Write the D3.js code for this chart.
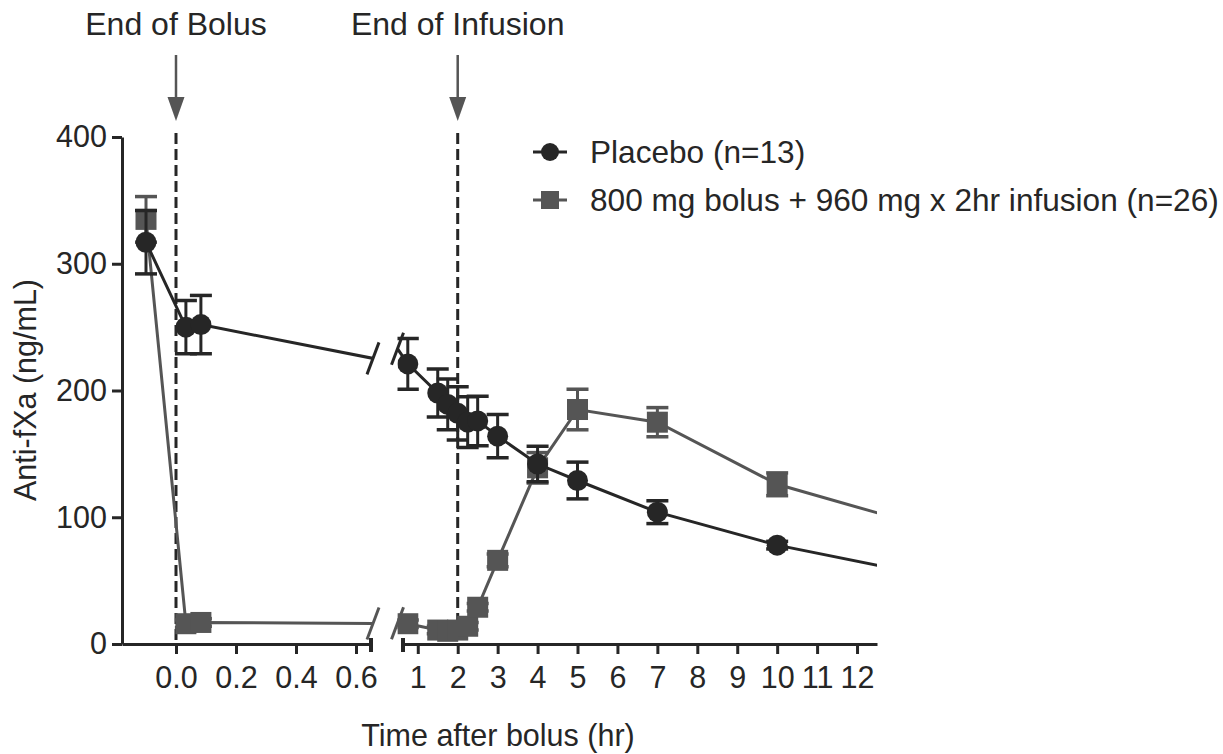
<!DOCTYPE html>
<html>
<head>
<meta charset="utf-8">
<title>Anti-fXa time course</title>
<script src="https://cdn.jsdelivr.net/npm/d3@7"></script>
<style>
  body { margin: 0; background: #fff; }
  text { font-family: "Liberation Sans", Arial, sans-serif; fill: #262626; }
</style>
</head>
<body>
<div id="chart"></div>
<script>
// time after bolus (hr) and anti-fXa (ng/mL), mean +/- error
var placeboTime = [-0.1, 0.033, 0.083, 0.75, 1.5, 1.75, 2, 2.25, 2.5, 3, 4, 5, 7, 10, 16];
var placeboMean = [317, 250, 252, 221, 198, 189, 182, 175, 176, 164, 142, 129, 104, 78, 40];
var placeboErr  = [25, 21, 23, 20, 19, 20, 21, 20, 19.5, 17, 14, 14.5, 9, 3, 3];

var comboTime = [-0.1, 0.033, 0.083, 0.75, 1.5, 1.75, 2, 2.25, 2.5, 3, 4, 5, 7, 10, 16];
var comboMean = [335, 16, 17, 16, 11, 10, 11, 14, 29, 66, 139, 185, 175, 126, 72];
var comboErr  = [18, 3, 3, 3, 3, 3, 3, 3, 3, 5, 12, 16, 11.5, 9, 5];

var seriesNames = ["Placebo (n=13)", "800 mg bolus + 960 mg x 2hr infusion (n=26)"];
var yTicks = [0, 100, 200, 300, 400];
var leftTicks = [0, 0.2, 0.4, 0.6];
var rightTicks = [1, 2, 3, 4, 5, 6, 7, 8, 9, 10, 11, 12];
var events = [{label: "End of Bolus", t: 0, seg: "left"}, {label: "End of Infusion", t: 2, seg: "right"}];

var W = 1223, H = 754;
var dark = "#262626", grey = "#555555";

var svg = d3.select("#chart").append("svg").attr("width", W).attr("height", H);

var y = d3.scaleLinear().domain([0, 400]).range([644, 137]);
var xLeft = d3.scaleLinear().domain([-0.18, 0.65]).range([122, 371]);
var xRight = d3.scaleLinear().domain([0.63, 12.5]).range([403, 877]);
var breakL = 373, breakR = 397.5;

var defs = svg.append("defs");
defs.append("clipPath").attr("id", "clipL").append("rect")
  .attr("x", 100).attr("y", 0).attr("width", breakL - 100).attr("height", H);
defs.append("clipPath").attr("id", "clipR").append("rect")
  .attr("x", breakR).attr("y", 0).attr("width", 877 - breakR).attr("height", H);

// axes
var yAxis = svg.append("g").attr("transform", "translate(122,0)")
  .call(d3.axisLeft(y).tickValues(yTicks).tickSize(10).tickPadding(5).tickSizeOuter(0));
var axL = svg.append("g").attr("transform", "translate(0,644)")
  .call(d3.axisBottom(xLeft).tickValues(leftTicks).tickFormat(d3.format(".1f"))
    .tickSize(10).tickPadding(12).tickSizeOuter(0));
var axR = svg.append("g").attr("transform", "translate(0,644)")
  .call(d3.axisBottom(xRight).tickValues(rightTicks).tickFormat(d3.format("d"))
    .tickSize(10).tickPadding(12).tickSizeOuter(0));
[yAxis, axL, axR].forEach(function(g) {
  g.selectAll("path.domain").attr("stroke", dark).attr("stroke-width", 3);
  g.selectAll(".tick line").attr("stroke", dark).attr("stroke-width", 3);
  g.selectAll(".tick text").attr("font-size", 30.5).attr("fill", dark)
    .style("font-family", '"Liberation Sans", Arial, sans-serif');
});
// end caps of the broken x axis
svg.append("line").attr("x1", xLeft.range()[1]).attr("x2", xLeft.range()[1])
  .attr("y1", 638).attr("y2", 652).attr("stroke", dark).attr("stroke-width", 4);
svg.append("line").attr("x1", xRight.range()[0]).attr("x2", xRight.range()[0])
  .attr("y1", 638).attr("y2", 652).attr("stroke", dark).attr("stroke-width", 4);

// axis titles
svg.append("text").attr("x", 498).attr("y", 746).attr("text-anchor", "middle")
  .attr("font-size", 30.5).text("Time after bolus (hr)");
svg.append("text").attr("transform", "translate(36,390) rotate(-90)")
  .attr("text-anchor", "middle").attr("font-size", 30.5).text("Anti-fXa (ng/mL)");

// event markers
events.forEach(function(e) {
  var sx = e.seg === "left" ? xLeft(e.t) : xRight(e.t);
  svg.append("line").attr("x1", sx).attr("x2", sx).attr("y1", 133).attr("y2", 644)
    .attr("stroke", dark).attr("stroke-width", 3).attr("stroke-dasharray", "11,5");
  svg.append("line").attr("x1", sx).attr("x2", sx).attr("y1", 55).attr("y2", 100)
    .attr("stroke", grey).attr("stroke-width", 2.5);
  svg.append("path").attr("d", "M" + (sx - 8.5) + ",97L" + (sx + 8.5) + ",97L" + sx + ",121Z")
    .attr("fill", grey);
  svg.append("text").attr("x", sx).attr("y", 35).attr("text-anchor", "middle")
    .attr("font-size", 32).text(e.label);
});

function drawSeries(times, means, errs, color, shape) {
  var pts = times.map(function(t, i) { return {t: t, m: means[i], e: errs[i]}; });
  var interp = d3.scaleLinear().domain(times).range(means);
  [{x: xLeft, clip: "clipL"}, {x: xRight, clip: "clipR"}].forEach(function(seg) {
    var g = svg.append("g").attr("clip-path", "url(#" + seg.clip + ")");
    var line = d3.line().x(function(d) { return seg.x(d.t); }).y(function(d) { return y(d.m); });
    g.append("path").datum(pts).attr("d", line).attr("fill", "none")
      .attr("stroke", color).attr("stroke-width", 3);
    var dom = seg.x.domain();
    var inside = pts.filter(function(d) { return d.t >= dom[0] && d.t <= dom[1]; });
    var eb = g.selectAll(".eb").data(inside).enter().append("g");
    eb.append("line").attr("x1", function(d) { return seg.x(d.t); }).attr("x2", function(d) { return seg.x(d.t); })
      .attr("y1", function(d) { return y(d.m + d.e); }).attr("y2", function(d) { return y(d.m - d.e); })
      .attr("stroke", color).attr("stroke-width", 3);
    [1, -1].forEach(function(s) {
      eb.append("line").attr("x1", function(d) { return seg.x(d.t) - 11; }).attr("x2", function(d) { return seg.x(d.t) + 11; })
        .attr("y1", function(d) { return y(d.m + s * d.e); }).attr("y2", function(d) { return y(d.m + s * d.e); })
        .attr("stroke", color).attr("stroke-width", 3.5);
    });
    if (shape === "circle") {
      g.selectAll(".mk").data(inside).enter().append("circle")
        .attr("cx", function(d) { return seg.x(d.t); }).attr("cy", function(d) { return y(d.m); })
        .attr("r", 10.5).attr("fill", color);
    } else {
      g.selectAll(".mk").data(inside).enter().append("rect")
        .attr("x", function(d) { return seg.x(d.t) - 10.5; }).attr("y", function(d) { return y(d.m) - 10.5; })
        .attr("width", 21).attr("height", 21).attr("fill", color);
    }
  });
  // break marks where the line crosses the axis gap
  [{px: breakL, x: xLeft}, {px: breakR, x: xRight}].forEach(function(b) {
    var yy = y(interp(b.x.invert(b.px)));
    svg.append("line").attr("x1", b.px - 6).attr("y1", yy + 16).attr("x2", b.px + 6).attr("y2", yy - 16)
      .attr("stroke", color).attr("stroke-width", 3);
  });
}

drawSeries(comboTime, comboMean, comboErr, grey, "square");
drawSeries(placeboTime, placeboMean, placeboErr, dark, "circle");

// legend
var legend = svg.append("g");
[{c: dark, s: "circle", y: 152}, {c: grey, s: "square", y: 200}].forEach(function(l, i) {
  legend.append("line").attr("x1", 533).attr("x2", 567).attr("y1", l.y).attr("y2", l.y)
    .attr("stroke", l.c).attr("stroke-width", 3);
  if (l.s === "circle") {
    legend.append("circle").attr("cx", 550).attr("cy", l.y).attr("r", 9).attr("fill", l.c);
  } else {
    legend.append("rect").attr("x", 541).attr("y", l.y - 9).attr("width", 18).attr("height", 18).attr("fill", l.c);
  }
  legend.append("text").attr("x", 590).attr("y", l.y + 11).attr("font-size", 31.6).text(seriesNames[i]);
});
</script>
</body>
</html>
